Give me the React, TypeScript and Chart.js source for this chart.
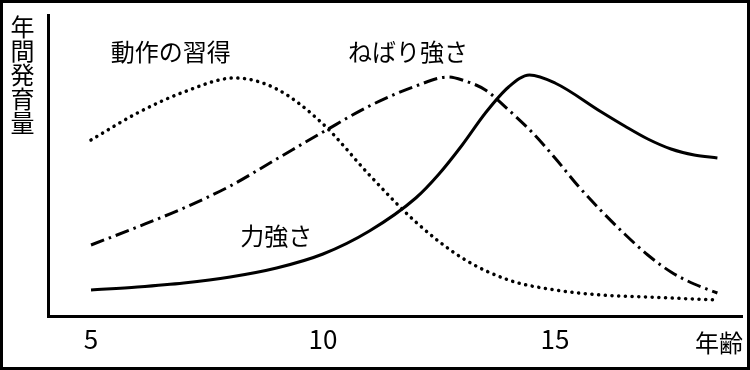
import { useEffect, useRef } from "react";
import { Chart, registerables } from "chart.js";

Chart.register(...registerables);

// ---- data ----
const xTicks = [5, 10, 15];
const xAxisTitle = "年齢";
const yAxisTitle = "年間発育量";

const skillName = "動作の習得";
const skillAges = [5, 6, 7, 8.1, 9, 10, 11, 12, 13, 14, 15, 16, 17, 18, 18.5];
const skillValues = [176, 203, 224, 238, 227, 192, 141, 94, 58, 36, 26, 21, 19, 17, 16];

const enduranceName = "ねばり強さ";
const enduranceAges = [5, 6, 7, 8, 9, 10, 11, 12, 12.7, 13, 13.5, 14, 14.5, 15, 15.5, 16, 16.5, 17, 17.5, 18, 18.5];
const enduranceValues = [71, 89, 108, 130, 157, 184, 210, 230, 239, 236, 226, 206, 184, 158, 130, 105, 82, 61, 44, 32, 23];

const strengthName = "力強さ";
const strengthAges = [5, 6, 7, 8, 9, 10, 11, 12, 12.5, 13, 13.5, 14, 14.45, 15, 16, 16.5, 17, 17.5, 18, 18.5];
const strengthValues = [26, 29, 33, 39, 48, 62, 85, 118, 142, 171, 203, 229, 241, 233, 204, 190, 177, 167, 161, 158];

const labelTexts = [skillName, enduranceName, strengthName];
const labelAges = [6.72, 11.83, 8.99];
const labelValues = [264, 264, 80];

const CJK = '"Noto Sans CJK JP", sans-serif';

const toPoints = (ages: number[], vals: number[]) => ages.map((a, i) => ({ x: a, y: vals[i] }));

const textPlugin = {
  id: "textPlugin",
  afterDraw(chart: any) {
    const ctx = chart.ctx;
    const xs = chart.scales.x;
    const ys = chart.scales.y;
    const area = chart.chartArea;
    ctx.save();
    ctx.fillStyle = "#000";
    ctx.font = `24px ${CJK}`;
    ctx.textAlign = "center";
    ctx.textBaseline = "middle";
    labelTexts.forEach((t, i) => {
      ctx.fillText(t, xs.getPixelForValue(labelAges[i]), ys.getPixelForValue(labelValues[i]));
    });
    const chars = Array.from(yAxisTitle);
    chars.forEach((c, i) => {
      ctx.fillText(c, area.left - 25.5, area.top + 12 + i * 24);
    });
    ctx.fillText(xAxisTitle, area.right - 23, area.bottom + 27);
    ctx.strokeStyle = "#000";
    ctx.lineWidth = 3;
    ctx.strokeRect(1.5, 1.5, chart.width - 3, chart.height - 3);
    ctx.restore();
  },
};

export default function App() {
  const ref = useRef<HTMLCanvasElement>(null);
  useEffect(() => {
    if (!ref.current) return;
    const chart = new Chart(ref.current, {
      type: "line",
      data: {
        datasets: [
          {
            label: skillName,
            data: toPoints(skillAges, skillValues),
            borderColor: "#000",
            borderWidth: 3.5,
            borderDash: [0.1, 6.6],
            borderCapStyle: "round",
            pointRadius: 0,
            cubicInterpolationMode: "monotone",
            fill: false,
          },
          {
            label: enduranceName,
            data: toPoints(enduranceAges, enduranceValues),
            borderColor: "#000",
            borderWidth: 3,
            borderDash: [14, 5, 2.5, 5],
            borderCapStyle: "butt",
            pointRadius: 0,
            cubicInterpolationMode: "monotone",
            fill: false,
          },
          {
            label: strengthName,
            data: toPoints(strengthAges, strengthValues),
            borderColor: "#000",
            borderWidth: 3,
            pointRadius: 0,
            cubicInterpolationMode: "monotone",
            fill: false,
          },
        ] as any,
      },
      options: {
        animation: false,
        responsive: false,
        devicePixelRatio: 1,
        layout: { padding: { top: 15, right: 8, left: 0, bottom: 0 } },
        plugins: { legend: { display: false }, tooltip: { enabled: false } },
        scales: {
          x: {
            type: "linear",
            min: 4.073,
            max: 19.03,
            afterBuildTicks: (scale: any) => {
              scale.ticks = xTicks.map((v) => ({ value: v }));
            },
            afterFit: (scale: any) => {
              scale.height = 54;
            },
            grid: { display: false, drawTicks: false },
            border: { display: true, color: "#000", width: 3 },
            ticks: {
              color: "#000",
              font: { size: 26, family: CJK, weight: "normal" },
              padding: 8,
              maxRotation: 0,
              autoSkip: false,
            },
          },
          y: {
            type: "linear",
            min: 0,
            max: 301,
            afterFit: (scale: any) => {
              scale.width = 48;
            },
            grid: { display: false, drawTicks: false },
            border: { display: true, color: "#000", width: 3 },
            ticks: { display: false },
          },
        },
      } as any,
      plugins: [textPlugin],
    });
    return () => chart.destroy();
  }, []);
  return (
    <div style={{ position: "fixed", left: 0, top: 0, width: 750, height: 370, background: "#fff" }}>
      <canvas ref={ref} width={750} height={370} style={{ display: "block" }} />
    </div>
  );
}
